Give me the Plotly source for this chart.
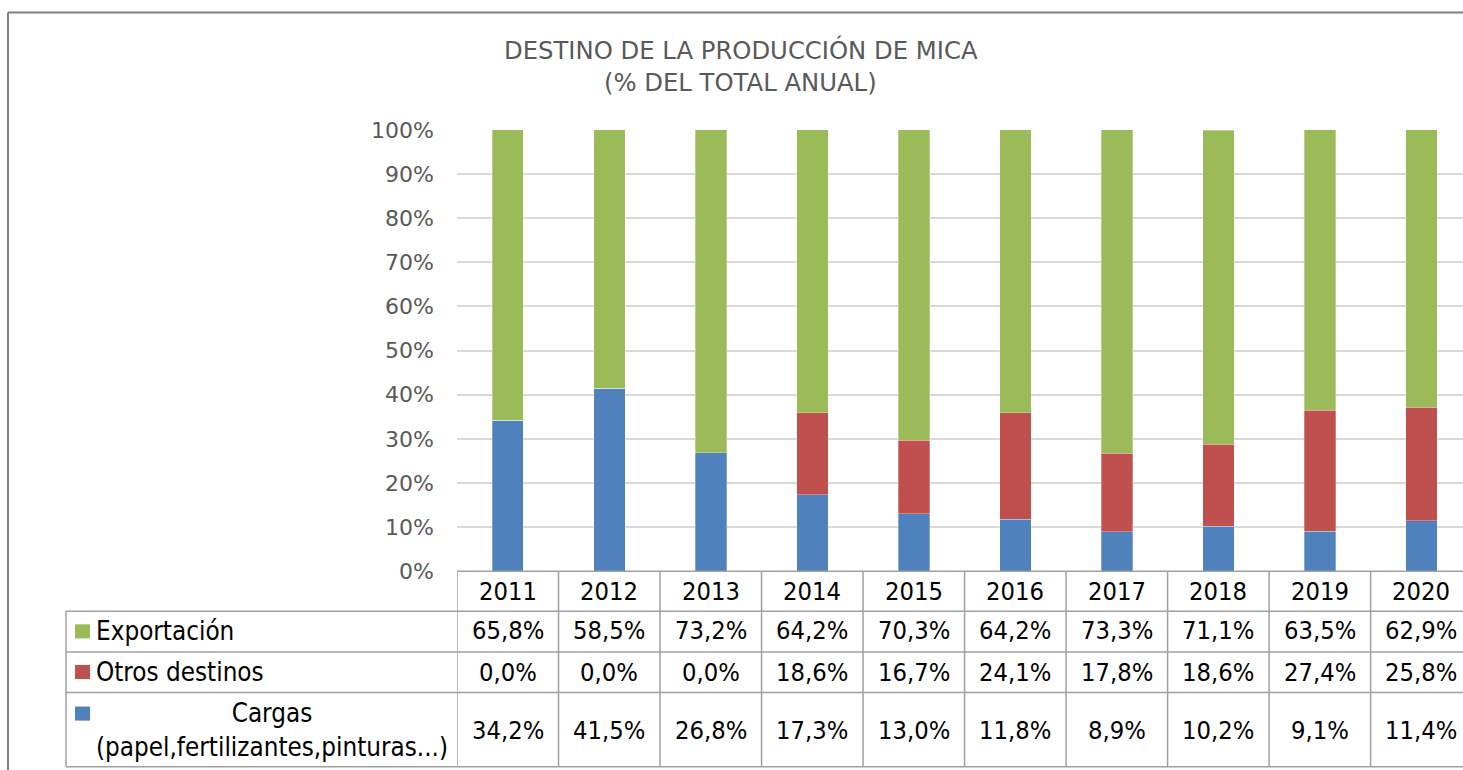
import plotly.graph_objects as go

# ---------------- data ----------------
years = ["2011", "2012", "2013", "2014", "2015", "2016", "2017", "2018", "2019", "2020"]
exportacion = [65.8, 58.5, 73.2, 64.2, 70.3, 64.2, 73.3, 71.1, 63.5, 62.9]
otros_destinos = [0.0, 0.0, 0.0, 18.6, 16.7, 24.1, 17.8, 18.6, 27.4, 25.8]
cargas = [34.2, 41.5, 26.8, 17.3, 13.0, 11.8, 8.9, 10.2, 9.1, 11.4]
series_names = ["Exportación", "Otros destinos", "Cargas<br>(papel,fertilizantes,pinturas...)"]
title_line1 = "DESTINO DE LA PRODUCCIÓN DE MICA"
title_line2 = "(% DEL TOTAL ANUAL)"

# ---------------- styling ----------------
W, H = 1463, 800
GREEN, RED, BLUE = "#9BBB59", "#C0504D", "#4F81BD"
GRAY_TXT = "#595959"
GRID = "#D9D9D9"
TBL = "#A0A0A0"
FONT_T = "DejaVu Sans Condensed, Tahoma, sans-serif"
FONT_W = "DejaVu Sans, Verdana, sans-serif"
TS = 25.3  # table value font size
LS = 25.8  # table legend font size


def px(x):
    return x / W


def py(y):
    yf = (y - 12.4) / 0.966
    return 1 - yf / H


PLOT_L, PLOT_T, PLOT_B = 457, 130, 570
ROW_TOP = [570, 610, 650.5, 691, 765]

fig = go.Figure()
for vals, col, name in [(cargas, BLUE, "Cargas"), (otros_destinos, RED, "Otros destinos"),
                        (exportacion, GREEN, "Exportación")]:
    fig.add_trace(go.Bar(
        x=list(range(len(years))), y=[v / 100 for v in vals], name=name,
        marker=dict(color=col, line=dict(color="rgba(255,255,255,0.6)", width=0.5)),
        width=0.31, hoverinfo="x+y",
    ))

shapes = []
annotations = []

# outer chart border (top and left visible)
shapes.append(dict(type="line", xref="paper", yref="paper", x0=px(8), x1=1, y0=py(13), y1=py(13),
                   line=dict(color="#808080", width=2)))
shapes.append(dict(type="line", xref="paper", yref="paper", x0=px(8), x1=px(8), y0=py(13), y1=0,
                   line=dict(color="#808080", width=2)))

# data table lines
shapes.append(dict(type="line", xref="paper", yref="paper", x0=px(PLOT_L), x1=1,
                   y0=py(ROW_TOP[0]), y1=py(ROW_TOP[0]), line=dict(color=TBL, width=1.5)))
for yy in ROW_TOP[1:]:
    shapes.append(dict(type="line", xref="paper", yref="paper", x0=px(66), x1=1,
                       y0=py(yy), y1=py(yy), line=dict(color=TBL, width=1.5)))
shapes.append(dict(type="line", xref="paper", yref="paper", x0=px(66), x1=px(66),
                   y0=py(ROW_TOP[1]), y1=py(ROW_TOP[-1]), line=dict(color=TBL, width=1.5)))
for i in range(len(years) + 1):
    shapes.append(dict(type="line", xref="x", yref="paper", x0=i - 0.5, x1=i - 0.5,
                       y0=py(ROW_TOP[0]), y1=py(ROW_TOP[-1]), line=dict(color=TBL, width=1.5)))

# header (years) and values
row_centers = [590.5, 629.5, 671, 729]
for i, yr in enumerate(years):
    annotations.append(dict(x=i, y=py(row_centers[0]), xref="x", yref="paper", text=yr,
                            showarrow=False, font=dict(size=TS, color="#000000", family=FONT_T),
                            xanchor="center", yanchor="middle"))
    for r, vals in enumerate([exportacion, otros_destinos, cargas]):
        txt = f"{vals[i]:.1f}%".replace(".", ",")
        annotations.append(dict(x=i, y=py(row_centers[r + 1]), xref="x", yref="paper", text=txt,
                                showarrow=False, font=dict(size=TS, color="#000000", family=FONT_T),
                                xanchor="center", yanchor="middle"))

# legend column of the table
key_y = [630, 670.5, 712]
for r, (col, name) in enumerate(zip([GREEN, RED, BLUE], series_names)):
    shapes.append(dict(type="rect", xref="paper", yref="paper", x0=px(75), x1=px(90),
                       y0=py(key_y[r] + 7), y1=py(key_y[r] - 7), fillcolor=col, line=dict(width=0)))
    if r < 2:
        annotations.append(dict(x=px(94), y=py(row_centers[r + 1]), xref="paper", yref="paper",
                                text=name, showarrow=False, xanchor="left", yanchor="middle",
                                font=dict(size=LS, color="#000000", family=FONT_T)))
    else:
        annotations.append(dict(x=px(272), y=py(728), xref="paper", yref="paper",
                                text=name, showarrow=False, xanchor="center", yanchor="middle",
                                align="center",
                                font=dict(size=LS, color="#000000", family=FONT_T)))

# title
annotations.append(dict(x=px(741), y=py(50), xref="paper", yref="paper", text=title_line1,
                        showarrow=False, xanchor="center", yanchor="middle",
                        font=dict(size=24.3, color=GRAY_TXT, family=FONT_W)))
annotations.append(dict(x=px(741), y=py(83), xref="paper", yref="paper", text=title_line2,
                        showarrow=False, xanchor="center", yanchor="middle",
                        font=dict(size=24.3, color=GRAY_TXT, family=FONT_W)))

fig.update_layout(
    width=W, height=H, barmode="stack", showlegend=False,
    margin=dict(l=0, r=0, t=0, b=0),
    paper_bgcolor="white", plot_bgcolor="white",
    shapes=shapes, annotations=annotations,
    xaxis=dict(domain=[px(PLOT_L), 1], range=[-0.5, 9.41], showticklabels=False,
               showgrid=False, zeroline=False, showline=False, fixedrange=True),
    yaxis=dict(domain=[py(PLOT_B), py(PLOT_T)], range=[0, 1], tickvals=[i / 10 for i in range(11)],
               tickformat=".0%", showgrid=True, gridcolor=GRID, gridwidth=1.5, zeroline=False,
               showline=False, ticks="", ticklabelstandoff=22,
               tickfont=dict(size=22, color=GRAY_TXT, family=FONT_W), fixedrange=True),
)

post = ("var gd=document.getElementById('{plot_id}');"
        "document.body.style.margin='0';document.body.style.overflow='hidden';"
        "document.documentElement.style.overflow='hidden';"
        "gd.style.position='fixed';gd.style.left='0px';gd.style.top='0px';")

fig.write_html("out.html", config={"displayModeBar": False}, post_script=post)
